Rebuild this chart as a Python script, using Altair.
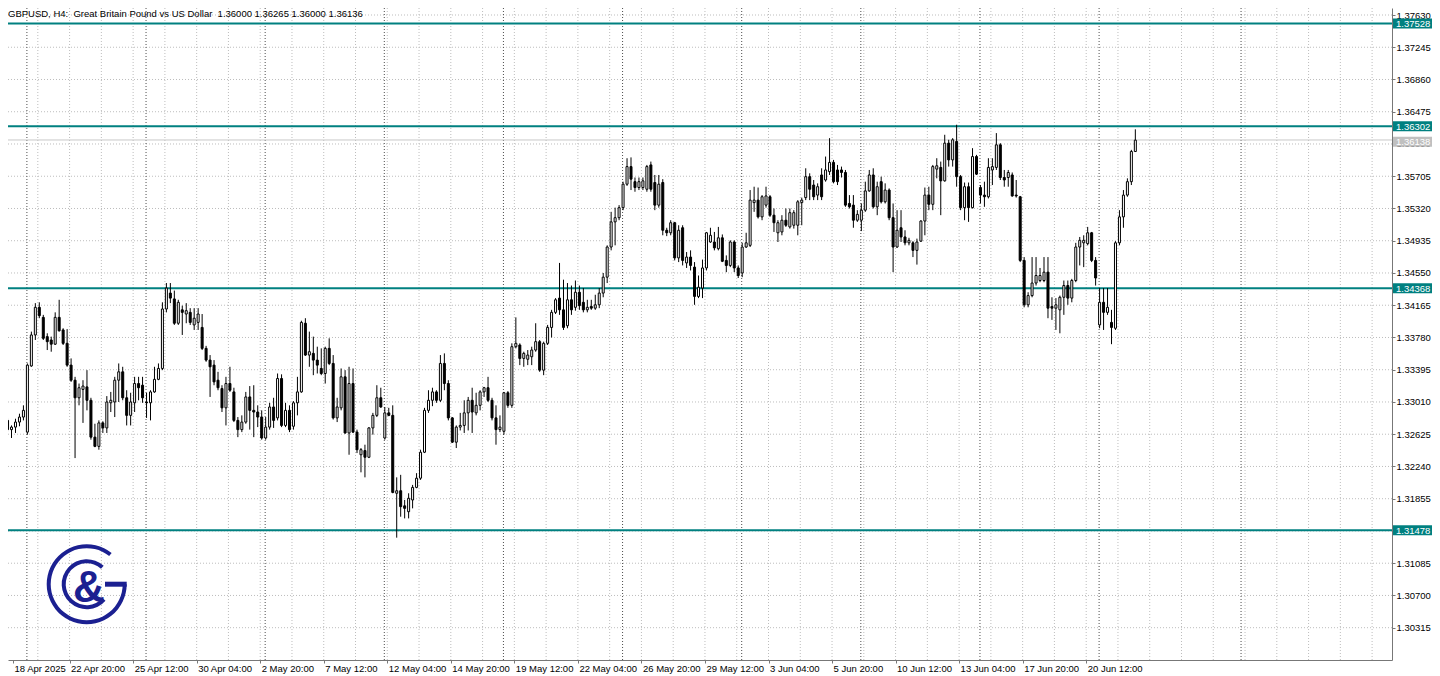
import json
import altair as alt
import pandas as pd

# ---------------- data: GBPUSD H4 bars ----------------
open_ = [
1.3279,1.3268,1.3271,1.3277,1.3283,1.3265,1.3344,1.3381,1.3414,1.3402,
1.3379,1.3375,1.3370,1.3402,1.3387,1.3371,1.3345,1.3327,1.3306,1.3316,
1.3319,1.3303,1.3259,1.3248,1.3276,1.3270,1.3300,1.3301,1.3327,1.3337,
1.3306,1.3285,1.3300,1.3323,1.3321,1.3301,1.3300,1.3313,1.3328,1.3341,
1.3412,1.3431,1.3424,1.3395,1.3411,1.3406,1.3408,1.3393,1.3396,1.3390,
1.3365,1.3351,1.3345,1.3327,1.3317,1.3294,1.3323,1.3313,1.3279,1.3268,
1.3277,1.3307,1.3291,1.3289,1.3283,1.3258,1.3271,1.3295,1.3282,1.3329,
1.3273,1.3291,1.3272,1.3300,1.3313,1.3395,1.3357,1.3359,1.3351,1.3341,
1.3335,1.3365,1.3347,1.3282,1.3294,1.3331,1.3264,1.3323,1.3265,1.3238,
1.3243,1.3235,1.3270,1.3285,1.3306,1.3258,1.3288,1.3285,1.3192,1.3195,
1.3177,1.3170,1.3184,1.3199,1.3210,1.3241,1.3291,1.3303,1.3313,1.3303,
1.3347,1.3323,1.3282,1.3253,1.3271,1.3273,1.3288,1.3303,1.3288,1.3297,
1.3313,1.3318,1.3303,1.3282,1.3268,1.3266,1.3312,1.3297,1.3367,1.3369,
1.3353,1.3352,1.3355,1.3363,1.3373,1.3339,1.3371,1.3390,1.3408,1.3425,
1.3411,1.3392,1.3423,1.3414,1.3432,1.3420,1.3411,1.3415,1.3413,1.3417,
1.3431,1.3450,1.3486,1.3516,1.3521,1.3533,1.3561,1.3582,1.3564,1.3557,
1.3557,1.3555,1.3584,1.3563,1.3536,1.3563,1.3506,1.3503,1.3515,1.3473,
1.3509,1.3467,1.3474,1.3462,1.3427,1.3437,1.3461,1.3492,1.3492,1.3484,
1.3497,1.3470,1.3464,1.3492,1.3461,1.3455,1.3486,1.3488,1.3539,1.3542,
1.3522,1.3536,1.3546,1.3524,1.3503,1.3504,1.3518,1.3510,1.3512,1.3512,
1.3539,1.3545,1.3570,1.3560,1.3548,1.3572,1.3566,1.3576,1.3587,1.3578,
1.3578,1.3575,1.3538,1.3536,1.3518,1.3518,1.3530,1.3553,1.3572,1.3534,
1.3564,1.3540,1.3554,1.3521,1.3486,1.3509,1.3498,1.3491,1.3491,1.3482,
1.3493,1.3517,1.3548,1.3537,1.3579,1.3581,1.3565,1.3610,1.3590,1.3612,
1.3570,1.3533,1.3558,1.3533,1.3594,1.3557,1.3548,1.3546,1.3578,1.3581,
1.3608,1.3569,1.3569,1.3572,1.3548,1.3546,1.3470,1.3417,1.3428,1.3443,
1.3446,1.3446,1.3456,1.3415,1.3413,1.3411,1.3426,1.3440,1.3425,1.3446,
1.3486,1.3491,1.3490,1.3503,1.3470,1.3393,1.3420,1.3408,1.3396,1.3389,
1.3491,1.3522,1.3548,1.3564,1.36000]

high = [
1.3282,1.3273,1.3281,1.3287,1.3297,1.3347,1.3385,1.3419,1.3420,1.3405,
1.3383,1.3379,1.3408,1.3423,1.3389,1.3388,1.3353,1.3331,1.3323,1.3327,
1.3339,1.3306,1.3275,1.3279,1.3278,1.3308,1.3313,1.3331,1.3347,1.3343,
1.3315,1.3312,1.3331,1.3331,1.3331,1.3312,1.3315,1.3343,1.3347,1.3420,
1.3443,1.3443,1.3434,1.3423,1.3416,1.3419,1.3413,1.3413,1.3413,1.3406,
1.3368,1.3357,1.3351,1.3337,1.3321,1.3331,1.3343,1.3318,1.3283,1.3285,
1.3313,1.3320,1.3321,1.3297,1.3291,1.3283,1.3300,1.3306,1.3335,1.3334,
1.3300,1.3297,1.3302,1.3331,1.3398,1.3401,1.3385,1.3379,1.3367,1.3365,
1.3367,1.3377,1.3357,1.3306,1.3341,1.3339,1.3343,1.3341,1.3268,1.3246,
1.3250,1.3271,1.3288,1.3321,1.3318,1.3295,1.3294,1.3297,1.3211,1.3214,
1.3184,1.3192,1.3202,1.3216,1.3244,1.3294,1.3315,1.3318,1.3315,1.3357,
1.3359,1.3327,1.3283,1.3273,1.3288,1.3303,1.3307,1.3318,1.3312,1.3315,
1.3319,1.3331,1.3306,1.3297,1.3285,1.3313,1.3314,1.3371,1.3402,1.3371,
1.3361,1.3363,1.3367,1.3395,1.3375,1.3373,1.3393,1.3411,1.3425,1.3467,
1.3447,1.3443,1.3440,1.3446,1.3440,1.3437,1.3423,1.3423,1.3429,1.3437,
1.3455,1.3488,1.3528,1.3533,1.3536,1.3564,1.3592,1.3593,1.3569,1.3569,
1.3569,1.3584,1.3588,1.3572,1.3572,1.3567,1.3509,1.3518,1.3516,1.3512,
1.3512,1.3480,1.3482,1.3468,1.3452,1.3471,1.3504,1.3509,1.3504,1.3510,
1.3501,1.3476,1.3494,1.3494,1.3464,1.3491,1.3503,1.3554,1.3558,1.3557,
1.3548,1.3558,1.3548,1.3532,1.3518,1.3524,1.3532,1.3532,1.3530,1.3542,
1.3545,1.3580,1.3574,1.3566,1.3562,1.3580,1.3594,1.3616,1.3590,1.3584,
1.3582,1.3578,1.3548,1.3548,1.3530,1.3538,1.3564,1.3578,1.3580,1.3564,
1.3570,1.3562,1.3556,1.3538,1.3530,1.3530,1.3506,1.3497,1.3493,1.3496,
1.3518,1.3557,1.3558,1.3584,1.3592,1.3588,1.3620,1.3614,1.3616,1.3632,
1.3572,1.3563,1.3563,1.3604,1.3596,1.3560,1.3564,1.3592,1.3592,1.3622,
1.3610,1.3578,1.3578,1.3575,1.3566,1.3547,1.3474,1.3432,1.3474,1.3474,
1.3461,1.3474,1.3474,1.3426,1.3425,1.3428,1.3446,1.3446,1.3448,1.3491,
1.3498,1.3500,1.3510,1.3504,1.3474,1.3437,1.3437,1.3437,1.3411,1.3493,
1.3530,1.3554,1.3568,1.3602,1.36265]

low = [
1.3265,1.3258,1.3264,1.3272,1.3279,1.3262,1.3343,1.3375,1.3401,1.3375,
1.3363,1.3361,1.3369,1.3385,1.3369,1.3343,1.3325,1.3234,1.3297,1.3276,
1.3291,1.3256,1.3247,1.3244,1.3264,1.3264,1.3289,1.3283,1.3301,1.3303,
1.3273,1.3273,1.3289,1.3303,1.3300,1.3282,1.3279,1.3312,1.3327,1.3339,
1.3408,1.3419,1.3393,1.3393,1.3381,1.3395,1.3393,1.3387,1.3387,1.3363,
1.3349,1.3307,1.3321,1.3315,1.3289,1.3273,1.3313,1.3277,1.3259,1.3265,
1.3275,1.3268,1.3259,1.3271,1.3256,1.3256,1.3268,1.3270,1.3279,1.3271,
1.3271,1.3265,1.3268,1.3285,1.3312,1.3356,1.3343,1.3333,1.3335,1.3333,
1.3323,1.3345,1.3280,1.3277,1.3291,1.3263,1.3238,1.3264,1.3240,1.3217,
1.3211,1.3234,1.3262,1.3283,1.3294,1.3256,1.3284,1.3192,1.3139,1.3164,
1.3162,1.3162,1.3174,1.3198,1.3208,1.3240,1.3288,1.3296,1.3300,1.3301,
1.3315,1.3279,1.3252,1.3246,1.3267,1.3264,1.3267,1.3264,1.3285,1.3291,
1.3307,1.3301,1.3279,1.3250,1.3265,1.3262,1.3294,1.3294,1.3365,1.3345,
1.3343,1.3345,1.3345,1.3361,1.3337,1.3333,1.3369,1.3378,1.3406,1.3405,
1.3387,1.3389,1.3405,1.3410,1.3411,1.3408,1.3408,1.3411,1.3411,1.3413,
1.3426,1.3443,1.3482,1.3488,1.3518,1.3530,1.3559,1.3554,1.3552,1.3554,
1.3554,1.3552,1.3552,1.3530,1.3533,1.3500,1.3499,1.3500,1.3470,1.3468,
1.3464,1.3461,1.3458,1.3417,1.3425,1.3425,1.3458,1.3491,1.3482,1.3482,
1.3468,1.3456,1.3462,1.3456,1.3449,1.3450,1.3485,1.3486,1.3528,1.3520,
1.3518,1.3533,1.3522,1.3504,1.3492,1.3500,1.3510,1.3508,1.3508,1.3500,
1.3512,1.3542,1.3542,1.3542,1.3542,1.3542,1.3564,1.3572,1.3562,1.3560,
1.3569,1.3534,1.3532,1.3509,1.3516,1.3505,1.3528,1.3552,1.3532,1.3524,
1.3538,1.3538,1.3518,1.3456,1.3485,1.3492,1.3488,1.3488,1.3474,1.3465,
1.3492,1.3500,1.3530,1.3530,1.3568,1.3524,1.3564,1.3582,1.3582,1.3558,
1.3530,1.3518,1.3516,1.3532,1.3572,1.3538,1.3534,1.3544,1.3560,1.3578,
1.3566,1.3558,1.3558,1.3546,1.3545,1.3468,1.3414,1.3414,1.3426,1.3440,
1.3444,1.3444,1.3401,1.3399,1.3387,1.3383,1.3405,1.3417,1.3420,1.3444,
1.3464,1.3462,1.3488,1.3468,1.3440,1.3389,1.3387,1.3405,1.3370,1.3387,
1.3488,1.3509,1.3546,1.3560,1.36000]

close = [
1.3268,1.3271,1.3277,1.3283,1.3291,1.3345,1.3381,1.3414,1.3404,1.3377,
1.3373,1.3370,1.3402,1.3386,1.3371,1.3345,1.3327,1.3306,1.3318,1.3320,
1.3303,1.3259,1.3248,1.3276,1.3270,1.3301,1.3303,1.3327,1.3337,1.3306,
1.3285,1.3301,1.3323,1.3318,1.3306,1.3300,1.3313,1.3328,1.3341,1.3412,
1.3437,1.3425,1.3395,1.3420,1.3408,1.3410,1.3396,1.3401,1.3406,1.3365,
1.3351,1.3343,1.3325,1.3318,1.3294,1.3323,1.3315,1.3279,1.3268,1.3277,
1.3307,1.3291,1.3289,1.3283,1.3258,1.3271,1.3295,1.3279,1.3329,1.3273,
1.3291,1.3268,1.3300,1.3313,1.3396,1.3357,1.3361,1.3351,1.3345,1.3335,
1.3365,1.3347,1.3282,1.3295,1.3331,1.3264,1.3323,1.3265,1.3244,1.3244,
1.3235,1.3270,1.3285,1.3306,1.3295,1.3288,1.3285,1.3193,1.3195,1.3176,
1.3174,1.3186,1.3199,1.3210,1.3241,1.3291,1.3303,1.3313,1.3303,1.3347,
1.3323,1.3282,1.3253,1.3271,1.3273,1.3288,1.3303,1.3289,1.3297,1.3313,
1.3318,1.3303,1.3282,1.3268,1.3271,1.3312,1.3297,1.3367,1.3371,1.3353,
1.3359,1.3357,1.3363,1.3373,1.3339,1.3371,1.3390,1.3408,1.3423,1.3411,
1.3390,1.3423,1.3411,1.3432,1.3416,1.3411,1.3414,1.3413,1.3417,1.3431,
1.3450,1.3486,1.3516,1.3521,1.3533,1.3561,1.3582,1.3567,1.3557,1.3564,
1.3565,1.3582,1.3555,1.3536,1.3561,1.3506,1.3503,1.3515,1.3473,1.3506,
1.3470,1.3474,1.3464,1.3427,1.3438,1.3461,1.3503,1.3500,1.3485,1.3497,
1.3469,1.3464,1.3492,1.3461,1.3452,1.3486,1.3491,1.3542,1.3542,1.3522,
1.3546,1.3547,1.3524,1.3515,1.3515,1.3518,1.3512,1.3527,1.3527,1.3540,
1.3542,1.3570,1.3555,1.3546,1.3558,1.3546,1.3578,1.3587,1.3564,1.3564,
1.3575,1.3536,1.3534,1.3518,1.3525,1.3530,1.3553,1.3572,1.3534,1.3558,
1.3540,1.3554,1.3521,1.3486,1.3506,1.3498,1.3491,1.3494,1.3482,1.3492,
1.3517,1.3548,1.3537,1.3582,1.3583,1.3565,1.3610,1.3590,1.3614,1.3570,
1.3533,1.3558,1.3533,1.3594,1.3573,1.3548,1.3546,1.3581,1.3582,1.3608,
1.3569,1.3566,1.3575,1.3547,1.3547,1.3470,1.3417,1.3428,1.3443,1.3452,
1.3452,1.3456,1.3413,1.3413,1.3417,1.3426,1.3440,1.3425,1.3446,1.3486,
1.3494,1.3494,1.3503,1.3470,1.3449,1.3420,1.3408,1.3414,1.3390,1.3491,
1.3522,1.3548,1.3564,1.3600,1.36136]

price_ticks = [1.30315, 1.30700, 1.31085, 1.31470, 1.31855, 1.32240, 1.32625,
               1.33010, 1.33395, 1.33780, 1.34165, 1.34550, 1.34935, 1.35320,
               1.35705, 1.36090, 1.36475, 1.36860, 1.37245, 1.37630]
level_prices = [1.37528, 1.36302, 1.34368, 1.31478]
bid_price = [1.36138]

time_labels = ["18 Apr 2025", "22 Apr 20:00", "25 Apr 12:00", "30 Apr 04:00",
               "2 May 20:00", "7 May 12:00", "12 May 04:00", "14 May 20:00",
               "19 May 12:00", "22 May 04:00", "26 May 20:00", "29 May 12:00",
               "3 Jun 04:00", "5 Jun 20:00", "10 Jun 12:00", "13 Jun 04:00",
               "17 Jun 20:00", "20 Jun 12:00"]
time_label_bars = [1.5, 15.75, 31.75, 47.75, 63.75, 79.75, 95.75, 111.75,
                   127.75, 143.75, 159.75, 175.75, 191.75, 207.75, 223.75,
                   239.75, 255.75, 271.75]
week_start_bars = [5, 35, 65, 95, 125, 155, 185, 215, 245, 275, 310.75]

title_text = ("GBPUSD, H4:\u00a0\u00a0Great Britain Pound vs US Dollar\u00a0\u00a0"
              "1.36000 1.36265 1.36000 1.36136")

# ---------------- layout / style ----------------
FONT = "Liberation Sans"
FS = 9.5
TEAL = "#008080"
GRID = "#bdbdbd"
SEP = "#4d4d4d"
AXC = "#777777"
LOGO = "#1b2091"

W, H = 1384, 652
grid_bars = [8 * k - 0.25 for k in range(1, 44)]

xs = alt.Scale(domain=[1.5, 347.5], nice=False, zero=False)
ys = alt.Scale(domain=[1.299294, 1.377136], nice=False, zero=False)

df = pd.DataFrame({"i": list(range(len(open_))), "o": open_, "h": high,
                   "l": low, "c": close})
ticks_df = pd.DataFrame({"p": price_ticks})
lev_df = pd.DataFrame({"p": level_prices})
bid_df = pd.DataFrame({"p": bid_price})
vgrid_df = pd.DataFrame({"i": grid_bars})
week_df = pd.DataFrame({"i": week_start_bars})
one = pd.DataFrame({"k": [0]})

label_expr = (json.dumps(time_labels) + "[indexof(" + json.dumps(time_label_bars)
              + ", datum.value)]")

x_axis = alt.Axis(orient="bottom", values=time_label_bars, labelExpr=label_expr,
                  labelAlign="left", labelBaseline="top", labelPadding=0,
                  labelOffset=1, tickSize=3, tickColor=AXC, domainColor=AXC,
                  labelFont=FONT, labelFontSize=FS, labelColor="#000000",
                  grid=False, title=None, labelOverlap=False, labelFlush=False,
                  labelBound=False)
y_axis = alt.Axis(orient="right", values=price_ticks, format=".5f",
                  labelAlign="left", labelBaseline="middle", labelPadding=1,
                  tickSize=3, tickColor=AXC, domainColor=AXC, labelFont=FONT,
                  labelFontSize=FS, labelColor="#000000", grid=False, title=None,
                  labelOverlap=False, labelFlush=False, labelBound=False)


def X(field):
    return alt.X(field, type="quantitative", scale=xs, axis=x_axis, title=None)


def Y(field):
    return alt.Y(field, type="quantitative", scale=ys, axis=y_axis, title=None)


hgrid = alt.Chart(ticks_df).mark_rule(color=GRID, strokeWidth=1, strokeDash=[1, 2]).encode(
    y=Y("p"))
vgrid = alt.Chart(vgrid_df).mark_rule(color=GRID, strokeWidth=1, strokeDash=[1, 2]).encode(
    x=X("i"))
weeks = alt.Chart(week_df).mark_rule(color=SEP, strokeWidth=1, strokeDash=[1, 2]).encode(
    x=X("i"))
bidline = alt.Chart(bid_df).mark_rule(color="#c8c8c8", strokeWidth=1).encode(y=Y("p"))
levels = alt.Chart(lev_df).mark_rule(color=TEAL, strokeWidth=2).encode(y=Y("p"))

wicks = alt.Chart(df).mark_rule(color="black", strokeWidth=1, xOffset=0.5, clip=True).encode(
    x=X("i"), y=Y("l"), y2="h:Q")
bodies = alt.Chart(df).mark_bar(width=2, stroke="black", strokeWidth=1, xOffset=0.5,
                                clip=True).encode(
    x=X("i"), y=Y("o"), y2="c:Q",
    fill=alt.condition("datum.c >= datum.o", alt.value("white"), alt.value("black")))

lev_box = alt.Chart(lev_df).mark_rect(color=TEAL, yOffset=-5, y2Offset=5).encode(
    x=alt.value(W + 1), x2=alt.value(W + 40), y=Y("p"), y2="p:Q")
lev_txt = alt.Chart(lev_df).mark_text(align="left", baseline="middle", color="white",
                                      font=FONT, fontSize=FS, dy=0.5).encode(
    x=alt.value(W + 4), y=Y("p"), text=alt.Text("p:Q", format=".5f"))
bid_box = alt.Chart(bid_df).mark_rect(color="#c0c0c0", yOffset=-3.3, y2Offset=6.7).encode(
    x=alt.value(W + 1), x2=alt.value(W + 40), y=Y("p"), y2="p:Q")
bid_txt = alt.Chart(bid_df).mark_text(align="left", baseline="middle", color="white",
                                      font=FONT, fontSize=FS, dy=2).encode(
    x=alt.value(W + 4), y=Y("p"), text=alt.Text("p:Q", format=".5f"))

title = alt.Chart(one).mark_text(align="left", baseline="top", font=FONT, fontSize=FS,
                                 color="black", text=title_text).encode(
    x=alt.value(0), y=alt.value(1))

# logo (G & C style emblem)
ring_outer = alt.Chart(one).mark_arc(color=LOGO, radius=40, radius2=36,
                                     theta=1.5708, theta2=6.957).encode(
    x=alt.value(78.7), y=alt.value(576.2))
ring_inner = alt.Chart(one).mark_arc(color=LOGO, radius=25, radius2=21,
                                     theta=2.29, theta2=7.03).encode(
    x=alt.value(78.7), y=alt.value(576.2))
g_bar = alt.Chart(one).mark_rect(color=LOGO).encode(
    x=alt.value(97), x2=alt.value(118.7), y=alt.value(573.7), y2=alt.value(578.7))
amp = alt.Chart(one).mark_text(text="&", font="Liberation Sans Narrow, Liberation Sans",
                               fontWeight="bold", fontSize=44, color=LOGO,
                               align="center", baseline="alphabetic").encode(
    x=alt.value(81), y=alt.value(594))

chart = alt.layer(
    hgrid, vgrid, weeks, bidline, levels, wicks, bodies,
    lev_box, lev_txt, bid_box, bid_txt, title,
    ring_outer, ring_inner, g_bar, amp,
).properties(
    width=W, height=H,
    padding={"left": 0, "top": 0, "right": 40, "bottom": 16},
    autosize=alt.AutoSizeParams(type="none"),
    background="white",
).configure_view(strokeWidth=0)

chart.save("out.html", embed_options={"renderer": "svg", "actions": False})
